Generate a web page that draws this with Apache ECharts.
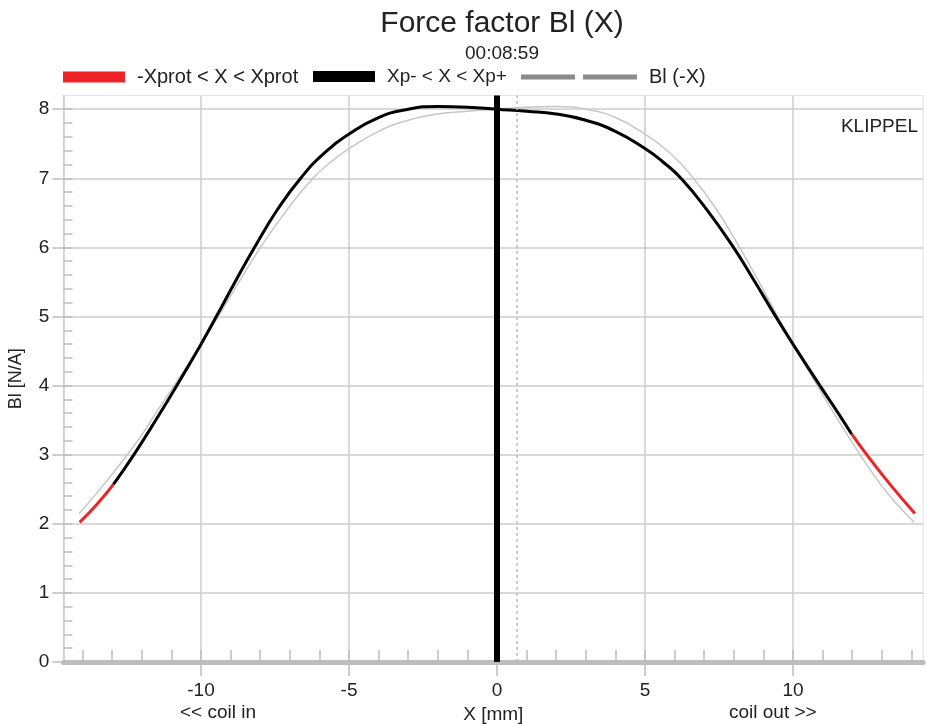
<!DOCTYPE html>
<html>
<head>
	<meta charset="utf-8" />
	<title>Force factor Bl (X)</title>
	<script src="https://cdn.jsdelivr.net/npm/echarts@6/dist/echarts.min.js"></script>
	<style>
		html, body {margin:0;padding:0;background:#fff;}
		#chart {width:927px;height:724px;}
	</style>
</head>
<body>
	<div id="chart"></div>

	<script>
		// Bl(X)
		var xMm = [-14.1, -13.5, -12.96, -12.3, -11.5, -10.82, -10.0, -9.47, -8.8, -8.18, -7.4, -6.6, -5.8, -5.0, -4.0, -3.0, -2.0, -1.0, 0.0,
		           1.0, 2.0, 3.0, 4.0, 5.0, 5.6, 6.24, 7.1, 7.99, 8.66, 9.39, 10.0, 10.91, 11.5, 11.98, 12.49, 13.3, 14.12];
		var blNA = [2.02, 2.29, 2.57, 2.98, 3.52, 4.00, 4.60, 5.01, 5.54, 6.01, 6.56, 7.02, 7.38, 7.64, 7.88, 8.00, 8.04, 8.03, 8.00,
		            7.97, 7.93, 7.84, 7.68, 7.43, 7.24, 6.99, 6.54, 6.00, 5.54, 5.02, 4.60, 4.00, 3.62, 3.30, 3.00, 2.56, 2.15];

		var xpMinus = -12.96;   // Xp-
		var xpPlus  = 11.98;    // Xp+
		var xRest   = 0.68;     // dashed marker

		var xMajorTicks = [-10, -5, 0, 5, 10];
		var xMinorTicks = [-14, -13, -12, -11, -10, -9, -8, -7, -6, -5, -4, -3, -2, -1, 0, 1, 2, 3, 4, 5, 6, 7, 8, 9, 10, 11, 12, 13, 14];
		var yMajorTicks = [0, 1, 2, 3, 4, 5, 6, 7, 8];
		var yMinorTicks = [0.2, 0.4, 0.6, 0.8, 1, 1.2, 1.4, 1.6, 1.8, 2, 2.2, 2.4, 2.6, 2.8, 3, 3.2, 3.4, 3.6, 3.8, 4,
		                   4.2, 4.4, 4.6, 4.8, 5, 5.2, 5.4, 5.6, 5.8, 6, 6.2, 6.4, 6.6, 6.8, 7, 7.2, 7.4, 7.6, 7.8, 8];

		var FONT = 'Liberation Sans, Arial, sans-serif';
		var RED_NAME = '-Xprot < X < Xprot';
		var BLACK_NAME = 'Xp- < X < Xp+';
		var GREY_NAME = 'Bl (-X)';

		var pts = xMm.map((x, i) => [x, blNA[i]]);
		var redLeft  = pts.filter(p => p[0] <= xpMinus);
		var redRight = pts.filter(p => p[0] >= xpPlus);
		var blackPts = pts.filter(p => p[0] >= xpMinus && p[0] <= xpPlus);
		// Bl(-X): same curve seen from the other side
		var mirrored = pts.map(p => [-p[0], p[1]]).reverse();

		var chart = echarts.init(document.getElementById('chart'));

		var gridLine = {show: true, lineStyle: {color: '#cccccc', width: 1.5}};
		var tickCol = '#bdbdbd';
		var labelStyle = {fontSize: 19, color: '#222', fontFamily: FONT};
		var legendText = {fontSize: 20, color: '#222', fontFamily: FONT, padding: [0, 0, 0, 7]};

		var option = {
			animation: false,
			textStyle: {fontFamily: FONT},
			title: {
				text: 'Force factor Bl (X)',
				subtext: '00:08:59',
				left: 497,
				top: 4,
				textAlign: 'center',
				itemGap: 5,
				textStyle: {fontSize: 30, fontWeight: 'normal', color: '#222', fontFamily: FONT},
				subtextStyle: {fontSize: 19, color: '#222', fontFamily: FONT}
			},
			legend: [
				{
					data: [RED_NAME], left: 63, top: 67, padding: 0, icon: 'rect', itemWidth: 62, itemHeight: 11,
					selectedMode: false, textStyle: legendText
				},
				{
					data: [BLACK_NAME], left: 313, top: 67, padding: 0, icon: 'rect', itemWidth: 62, itemHeight: 11,
					selectedMode: false, textStyle: Object.assign({}, legendText, {fontSize: 19})
				},
				{
					data: [{name: GREY_NAME, icon: 'path://M0,0H54V5H0Z M62,0H116V5H62Z', itemStyle: {color: '#8c8c8c'}}],
					left: 521, top: 67, padding: 0, itemWidth: 116, itemHeight: 5,
					selectedMode: false, textStyle: legendText
				}
			],
			grid: {
				left: 63.4, right: 3.8, top: 95.4, bottom: 62,
				outerBoundsMode: 'none', containLabel: false,
				show: true, borderColor: '#e2e2e2', borderWidth: 1
			},
			xAxis: [
				{
					type: 'value', min: -14.65, max: 14.4, position: 'bottom',
					axisLine: {show: true, onZero: false, lineStyle: {color: tickCol, width: 5}},
					axisTick: {show: true, inside: false, length: 14, customValues: xMajorTicks, lineStyle: {color: tickCol, width: 1.5}},
					axisLabel: Object.assign({customValues: xMajorTicks, margin: 19}, labelStyle),
					splitLine: gridLine,
					name: 'X [mm]', nameLocation: 'middle', nameGap: 41,
					nameTextStyle: {fontSize: 19, color: '#222', fontFamily: FONT}
				},
				{
					type: 'value', min: -14.65, max: 14.4, position: 'bottom',
					axisLine: {show: false, onZero: false},
					axisTick: {show: true, inside: true, length: 12, customValues: xMinorTicks, lineStyle: {color: tickCol, width: 1.5}},
					axisLabel: {show: false},
					splitLine: {show: false}
				}
			],
			yAxis: [
				{
					type: 'value', min: 0, max: 8.2, position: 'left',
					axisLine: {show: true, onZero: false, lineStyle: {color: '#c8c8c8', width: 1.5}},
					axisTick: {show: true, inside: false, length: 11, customValues: yMajorTicks, lineStyle: {color: tickCol, width: 1.5}},
					axisLabel: Object.assign({customValues: yMajorTicks, margin: 14}, labelStyle),
					splitLine: gridLine,
					name: 'Bl [N/A]', nameLocation: 'middle', nameGap: 38,
					nameTextStyle: {fontSize: 18, color: '#222', fontFamily: FONT}
				},
				{
					type: 'value', min: 0, max: 8.2, position: 'left',
					axisLine: {show: false, onZero: false},
					axisTick: {show: true, inside: true, length: 9, customValues: yMinorTicks, lineStyle: {color: tickCol, width: 1.5}},
					axisLabel: {show: false},
					splitLine: {show: false}
				}
			],
			graphic: [
				{type: 'text', right: 9, top: 117, style: {text: 'KLIPPEL', fontSize: 19, fill: '#222', fontFamily: FONT}},
				{type: 'text', left: 180, top: 703, style: {text: '<< coil in', fontSize: 19, fill: '#222', fontFamily: FONT}},
				{type: 'text', left: 729, top: 703, style: {text: 'coil out >>', fontSize: 19, fill: '#222', fontFamily: FONT}}
			],
			series: [
				{
					name: GREY_NAME, type: 'line', data: mirrored, smooth: 0.5, symbol: 'none', z: 1,
					lineStyle: {color: '#c6c6c6', width: 1.5}, itemStyle: {color: '#c6c6c6'},
					markLine: {
						silent: true, symbol: 'none', label: {show: false},
						data: [{xAxis: xRest, lineStyle: {color: '#bbbbbb', width: 1.5, type: [3, 3]}}]
					}
				},
				{
					name: RED_NAME, type: 'line', data: redLeft, smooth: 0.5, symbol: 'none', z: 2,
					lineStyle: {color: '#ee2326', width: 3}, itemStyle: {color: '#ee2326'}
				},
				{
					name: RED_NAME, type: 'line', data: redRight, smooth: 0.5, symbol: 'none', z: 2,
					lineStyle: {color: '#ee2326', width: 3}, itemStyle: {color: '#ee2326'}
				},
				{
					name: BLACK_NAME, type: 'line', data: blackPts, smooth: 0.5, symbol: 'none', z: 3,
					lineStyle: {color: '#000', width: 3}, itemStyle: {color: '#000'},
					markLine: {
						silent: true, symbol: 'none', label: {show: false},
						data: [{xAxis: 0, lineStyle: {color: '#000', width: 6, type: 'solid'}}]
					}
				}
			]
		};

		chart.setOption(option);
		window.addEventListener('resize', chart.resize);
	</script>
</body>
</html>
